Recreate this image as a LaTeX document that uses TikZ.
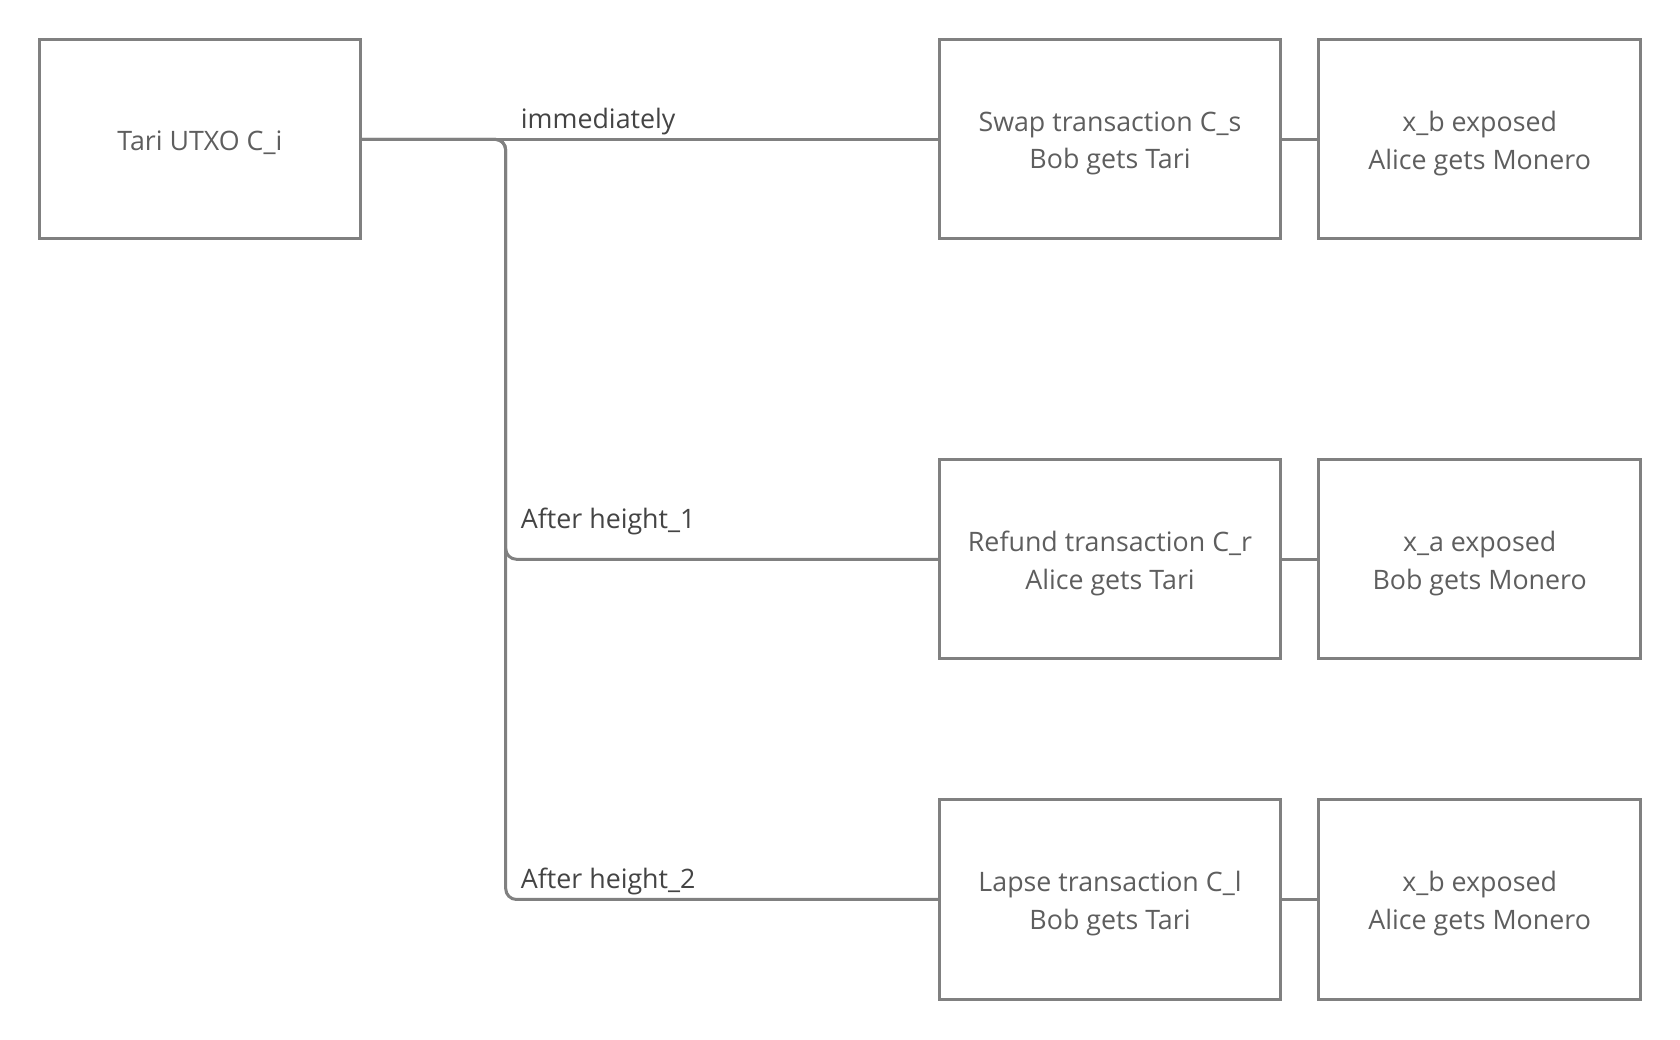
\documentclass[tikz,border=0pt]{standalone}
\usepackage{fontspec}
\setmainfont{Open Sans}
\definecolor{ln}{HTML}{808080}
\definecolor{tx}{HTML}{5E5E5E}
\definecolor{lb}{HTML}{444444}
\begin{document}
\begin{tikzpicture}[x=1pt,y=-1pt,
  box/.style={draw=ln,line width=2.8pt,minimum height=186pt,inner sep=0pt},
  leftbox/.style={box,minimum width=299pt},
  midbox/.style={box,minimum width=318pt},
  rightbox/.style={box,minimum width=300pt},
  txt/.style={text=tx,align=center,font=\fontsize{25}{35}\selectfont,inner sep=0pt},
  conn/.style={draw=ln,line width=2.8pt,rounded corners=10pt},
  lbl/.style={anchor=west,text=lb,font=\fontsize{25}{35}\selectfont,inner sep=0pt}]
\useasboundingbox (0,0) rectangle (1568,970.6);
\node[leftbox] (utxo) at (186.5,130) {};
\node[midbox] (swap) at (1036,130) {};
\node[rightbox] (xb1) at (1381,130) {};
\node[midbox] (refund) at (1036,522) {};
\node[rightbox] (xa) at (1381,522) {};
\node[midbox] (lapse) at (1036,839.5) {};
\node[rightbox] (xb2) at (1381,839.5) {};
\node[txt] (utxot) at ([yshift=-3pt]utxo.center) {Tari UTXO C\_i};
\node[txt] (swapt) at ([yshift=-4pt]swap.center) {Swap transaction C\_s\\Bob gets Tari};
\node[txt] (xb1t) at ([yshift=-4pt]xb1.center) {x\_b exposed\\Alice gets Monero};
\node[txt] (refundt) at ([yshift=-4pt]refund.center) {Refund transaction C\_r\\Alice gets Tari};
\node[txt] (xat) at ([yshift=-4pt]xa.center) {x\_a exposed\\Bob gets Monero};
\node[txt] (lapset) at ([yshift=-4pt]lapse.center) {Lapse transaction C\_l\\Bob gets Tari};
\node[txt] (xb2t) at ([yshift=-4pt]xb2.center) {x\_b exposed\\Alice gets Monero};
\coordinate (j) at (472,130);
\draw[conn] (utxo.east) -- (swap.west);
\draw[conn] (utxo.east) -- (j) -- (j |- refund.west) -- (refund.west);
\draw[conn] (utxo.east) -- (j) -- (j |- lapse.west) -- (lapse.west);
\draw[conn] (swap.east) -- (xb1.west);
\draw[conn] (refund.east) -- (xa.west);
\draw[conn] (lapse.east) -- (xb2.west);
\node[lbl] (l1) at (486,113) {immediately};
\node[lbl] (l2) at (486,487) {After height\_1};
\node[lbl] (l3) at (486,823) {After height\_2};
\end{tikzpicture}
\end{document}
